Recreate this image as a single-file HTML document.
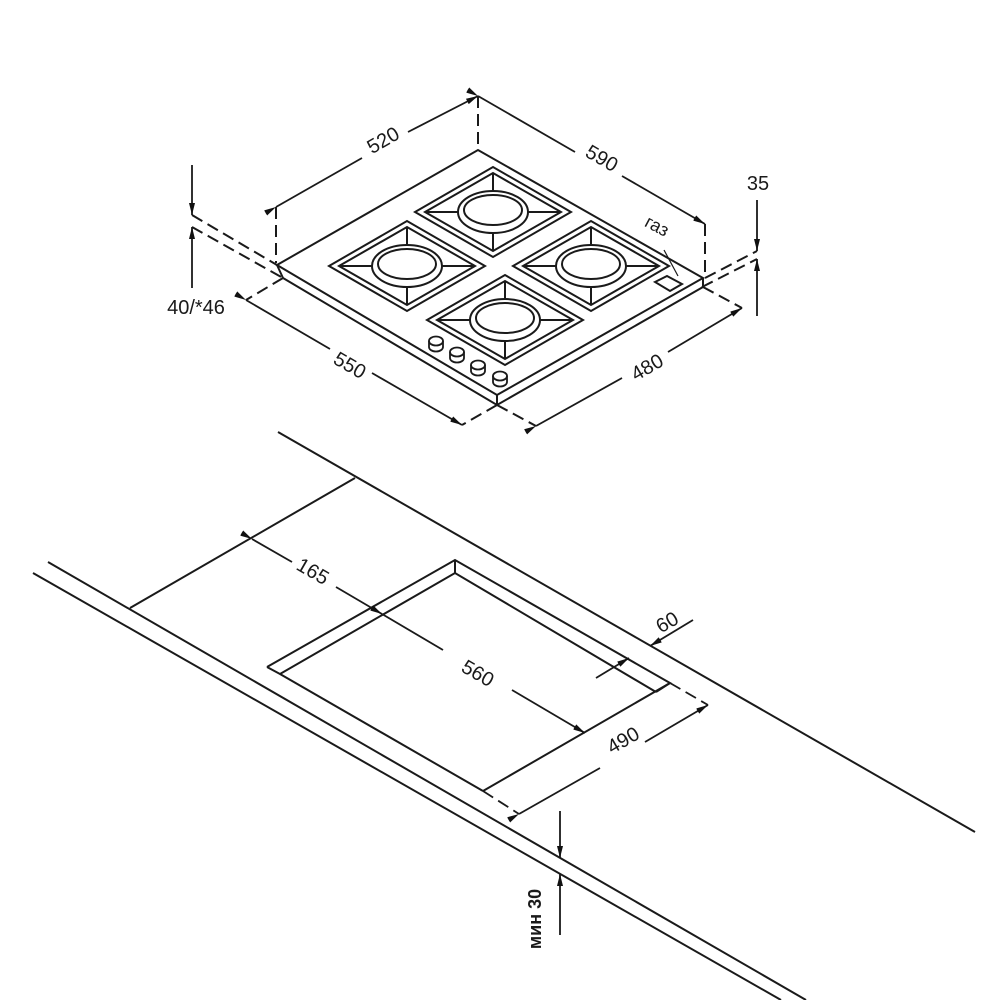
<!DOCTYPE html>
<html><head><meta charset="utf-8"><style>
html,body{margin:0;padding:0;background:#fff;}
svg{display:block;}
text{font-family:"Liberation Sans","DejaVu Sans",sans-serif;fill:#1a1a1a;}
</style></head><body>
<svg width="1000" height="1000" viewBox="0 0 1000 1000" xmlns="http://www.w3.org/2000/svg">
<defs>
<marker id="a" viewBox="0 0 12 6" refX="12" refY="3" markerWidth="12" markerHeight="6" orient="auto" markerUnits="userSpaceOnUse">
<path d="M0,0 L12,3 L0,6 z" fill="#111"/></marker>
<g id="grate" fill="none" stroke="#1a1a1a" stroke-width="2">
<path d="M-78,0 L0,-45 L78,0 L0,45 Z"/>
<path d="M-68,0 L0,-39 L68,0 L0,39 Z"/>
<path d="M-68,0 L-34,0 M34,0 L68,0 M0,-39 L0,-22 M0,20 L0,39"/>
<ellipse cx="0" cy="0" rx="35" ry="21" fill="#fff"/>
<ellipse cx="0" cy="-2" rx="29" ry="15"/>
</g>
<g id="knob" fill="#fff" stroke="#1a1a1a" stroke-width="1.8">
<path d="M-7,0 L-7,6 A7,4.5 0 0 0 7,6 L7,0"/>
<ellipse cx="0" cy="0" rx="7" ry="4.5"/>
</g>
</defs>

<g fill="none" stroke="#1a1a1a" stroke-width="2">
<path d="M277,265 L478,150 L703,278 L497,395 Z"/>
<path d="M283,278 L497,405 L703,287"/>
<path d="M277,265 L283,278 M497,395 L497,405 M703,278 L703,287"/>
<path d="M655,282 L667,276 L682,284 L670,291 Z"/>
<path d="M664,250 L678,276" stroke-width="1.2"/>
</g>
<use href="#grate" x="493" y="212"/>
<use href="#grate" x="407" y="266"/>
<use href="#grate" x="591" y="266"/>
<use href="#grate" x="505" y="320"/>
<use href="#knob" x="436" y="341"/>
<use href="#knob" x="457" y="352"/>
<use href="#knob" x="478" y="365"/>
<use href="#knob" x="500" y="376"/>

<g fill="none" stroke="#1a1a1a" stroke-width="2" stroke-dasharray="12,6">
<path d="M276,207 L276,263"/>
<path d="M478,96 L478,148"/>
<path d="M705,224 L705,276"/>
<path d="M192,215 L277,265"/>
<path d="M192,227 L283,278"/>
<path d="M705,278 L757,251"/>
<path d="M702,287 L757,259"/>
<path d="M283,278 L246,300"/>
<path d="M497,405 L462,425"/>
<path d="M497,405 L536,426"/>
<path d="M703,287 L742,308"/>
</g>

<g fill="none" stroke="#1a1a1a" stroke-width="1.8">
<path d="M276,207 L362,158" marker-start="url(#a)"/>
<path d="M408,132 L478,96" marker-end="url(#a)"/>
<path d="M478,96 L575,152" marker-start="url(#a)"/>
<path d="M622,176 L705,224" marker-end="url(#a)"/>
<path d="M192,165 L192,215" marker-end="url(#a)"/>
<path d="M192,288 L192,227" marker-end="url(#a)"/>
<path d="M757,200 L757,251" marker-end="url(#a)"/>
<path d="M757,316 L757,259" marker-end="url(#a)"/>
<path d="M246,300 L330,349" marker-start="url(#a)"/>
<path d="M372,373 L462,425" marker-end="url(#a)"/>
<path d="M536,426 L622,378" marker-start="url(#a)"/>
<path d="M668,352 L742,308" marker-end="url(#a)"/>
</g>
<g font-size="20">
<text x="383" y="147" text-anchor="middle" transform="rotate(-30 383 140)">520</text>
<text x="602" y="165" text-anchor="middle" transform="rotate(30 602 158)">590</text>
<text x="758" y="190" text-anchor="middle">35</text>
<text x="196" y="314" text-anchor="middle">40/*46</text>
<text x="350" y="372" text-anchor="middle" transform="rotate(30 350 365)">550</text>
<text x="647" y="374" text-anchor="middle" transform="rotate(-30 647 367)">480</text>
<text x="657" y="232" text-anchor="middle" font-size="18" transform="rotate(28 657 226)">газ</text>
</g>

<g fill="none" stroke="#1a1a1a" stroke-width="2">
<path d="M278,432 L975,832"/>
<path d="M355,478 L130,608"/>
<path d="M48,562 L806,1000"/>
<path d="M33,573 L781,1000"/>
<path d="M267,667 L455,560 L670,683 L483,791"/>
<path d="M267,667 L280,674 L455,573 L656,692"/>
<path d="M280,674 L483,791"/>
<path d="M455,560 L455,573 M670,683 L656,692"/>
</g>
<g fill="none" stroke="#1a1a1a" stroke-width="1.8">
<path d="M252,539 L292,562" marker-start="url(#a)"/>
<path d="M336,587 L382,614" marker-end="url(#a)"/>
<path d="M382,614 L443,650"/>
<path d="M512,690 L585,733" marker-end="url(#a)"/>
<path d="M693,620 L650,646" marker-end="url(#a)"/>
<path d="M596,678 L629,658" marker-end="url(#a)"/>
<path d="M670,683 L708,705" stroke-dasharray="12,6"/>
<path d="M483,791 L519,814" stroke-dasharray="12,6"/>
<path d="M519,814 L600,768" marker-start="url(#a)"/>
<path d="M645,742 L708,705" marker-end="url(#a)"/>
<path d="M560,811 L560,858" marker-end="url(#a)"/>
<path d="M560,935 L560,874" marker-end="url(#a)"/>
</g>
<g font-size="20">
<text x="313" y="578" text-anchor="middle" transform="rotate(30 313 571)">165</text>
<text x="478" y="680" text-anchor="middle" transform="rotate(30 478 673)">560</text>
<text x="667" y="629" text-anchor="middle" transform="rotate(-30 667 622)">60</text>
<text x="623" y="747" text-anchor="middle" transform="rotate(-30 623 740)">490</text>
<text x="547" y="925" text-anchor="middle" font-weight="bold" font-size="18" transform="rotate(-90 541 925)">мин 30</text>
</g>
</svg>
</body></html>
